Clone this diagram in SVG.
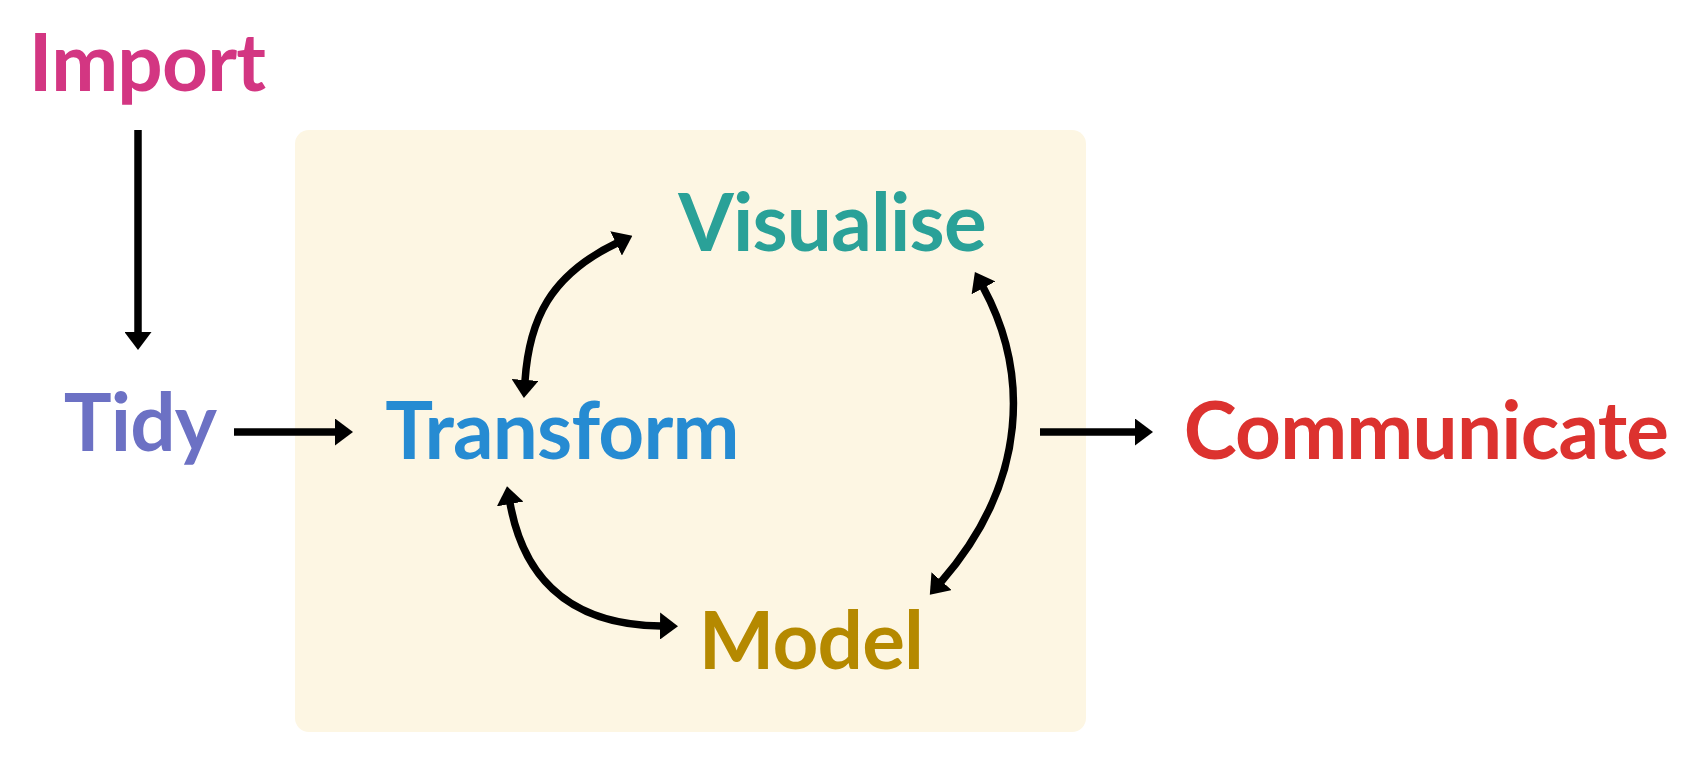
<svg xmlns="http://www.w3.org/2000/svg" width="1703" height="760" viewBox="0 0 1703 760">
  <style>
    .lbl { font-family: Lato, "Liberation Sans", sans-serif; font-weight: 700; font-size: 80px; letter-spacing: -0.8px; text-anchor: middle; }
  </style>
  <defs>
    <marker id="ah" viewBox="0 0 18 27" refX="1" refY="13.5" markerUnits="userSpaceOnUse" markerWidth="18" markerHeight="27" orient="auto-start-reverse">
      <path d="M0,0 L18,13.5 L0,27 z" fill="#000"/>
    </marker>
  </defs>
  <rect width="1703" height="760" fill="#fff"/>
  <rect id="program-area" x="295" y="130" width="791" height="602" rx="14" ry="14" fill="#fdf6e3"/>
  <g id="import"><text class="lbl" x="147" y="91" fill="#d33682">Import</text></g>
  <g id="tidy"><text class="lbl" x="140" y="451" fill="#6c71c4">Tidy</text></g>
  <g id="transform"><text class="lbl" x="562" y="459" fill="#268bd2">Transform</text></g>
  <g id="visualise"><text class="lbl" x="832" y="251" fill="#2aa198">Visualise</text></g>
  <g id="model"><text class="lbl" x="811" y="669" fill="#b58900">Model</text></g>
  <g id="communicate"><text class="lbl" x="1426" y="459" fill="#dc322f">Communicate</text></g>
  <g id="connectors" fill="none" stroke="#000" stroke-width="7.5">
    <path d="M138,130 L138,333" marker-end="url(#ah)"/>
    <path d="M234,432 L336,432" marker-end="url(#ah)"/>
    <path d="M1040,432 L1136,432" marker-end="url(#ah)"/>
    <path d="M525,381 C529,320 550,275 617,243" marker-start="url(#ah)" marker-end="url(#ah)"/>
    <path d="M983,287 C1028,370 1030,480 941,582" marker-start="url(#ah)" marker-end="url(#ah)"/>
    <path d="M510,503 C522,570 562,625 661,626" marker-start="url(#ah)" marker-end="url(#ah)"/>
  </g>
</svg>
